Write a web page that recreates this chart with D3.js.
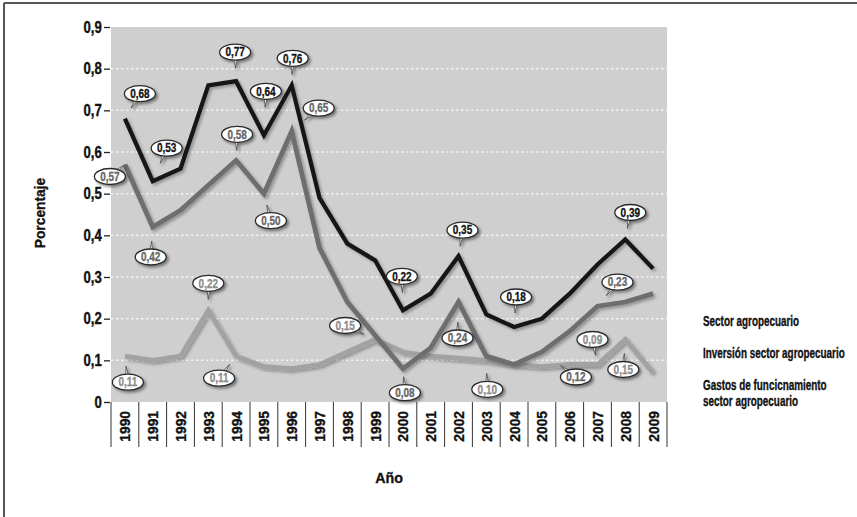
<!DOCTYPE html>
<html>
<head>
<meta charset="utf-8">
<script src="https://cdn.jsdelivr.net/npm/d3@7"></script>
<style>
  html, body { margin: 0; padding: 0; background: #fff; }
  svg { display: block; }
  text { font-family: "Liberation Sans", Arial, sans-serif; font-weight: bold; }
</style>
</head>
<body>
<svg id="chart" width="857" height="517"></svg>
<script>
// Years on the horizontal axis
const years = [1990, 1991, 1992, 1993, 1994, 1995, 1996, 1997, 1998, 1999,
               2000, 2001, 2002, 2003, 2004, 2005, 2006, 2007, 2008, 2009];

// Share of spending (porcentaje) for each series
const sector     = [0.68, 0.53, 0.56, 0.76, 0.77, 0.64, 0.76, 0.49, 0.38, 0.34,
                    0.22, 0.26, 0.35, 0.21, 0.18, 0.20, 0.26, 0.33, 0.39, 0.32];
const inversion  = [0.57, 0.42, 0.46, 0.52, 0.58, 0.50, 0.65, 0.37, 0.24, 0.16,
                    0.08, 0.13, 0.24, 0.11, 0.09, 0.12, 0.17, 0.23, 0.24, 0.26];
const gastos     = [0.11, 0.10, 0.11, 0.22, 0.11, 0.085, 0.08, 0.09, 0.12, 0.15,
                    0.12, 0.11, 0.105, 0.10, 0.09, 0.085, 0.09, 0.09, 0.15, 0.07];

const seriesNames = ["Sector agropecuario", "Inversión sector agropecuario",
                     ["Gastos de funcicnamiento", "sector agropecuario"]];

const yTicks = [0, 0.1, 0.2, 0.3, 0.4, 0.5, 0.6, 0.7, 0.8, 0.9];

// Value callouts: series index, year, bubble offset from the point
const callouts = [
  {s: 0, year: 1990, dx: 15, dy: -25}, {s: 0, year: 1991, dx: 14, dy: -33},
  {s: 0, year: 1994, dx: -1, dy: -29}, {s: 0, year: 1995, dx: 2, dy: -44},
  {s: 0, year: 1996, dx: 1, dy: -27},  {s: 0, year: 2000, dx: -1, dy: -34},
  {s: 0, year: 2002, dx: 4, dy: -26},  {s: 0, year: 2004, dx: 2, dy: -30},
  {s: 0, year: 2008, dx: 5, dy: -27},
  {s: 1, year: 1990, dx: -15, dy: 12}, {s: 1, year: 1991, dx: -2, dy: 30},
  {s: 1, year: 1994, dx: 1, dy: -26},  {s: 1, year: 1995, dx: 7, dy: 27},
  {s: 1, year: 1996, dx: 27, dy: -23}, {s: 1, year: 2000, dx: 2, dy: 24},
  {s: 1, year: 2002, dx: -1, dy: 36},  {s: 1, year: 2005, dx: 34, dy: 25},
  {s: 1, year: 2007, dx: 20, dy: -24},
  {s: 2, year: 1990, dx: 3, dy: 26},   {s: 2, year: 1993, dx: 0, dy: -27},
  {s: 2, year: 1994, dx: -17, dy: 22}, {s: 2, year: 1999, dx: -30, dy: -14},
  {s: 2, year: 2003, dx: 1, dy: 29},   {s: 2, year: 2007, dx: -5, dy: -25},
  {s: 2, year: 2008, dx: -2, dy: 30}
];

const seriesValues = [sector, inversion, gastos];
const lineColors = ["#151515", "#6e6e6e", "#a2a2a2"];
const labelColors = ["#111", "#666", "#8c8c8c"];

const svg = d3.select("#chart");
const defs = svg.append("defs");

const shadow = defs.append("filter").attr("id", "shadow")
  .attr("x", "-20%").attr("y", "-20%").attr("width", "140%").attr("height", "140%");
shadow.append("feDropShadow").attr("dx", 2).attr("dy", 2).attr("stdDeviation", 1.6)
  .attr("flood-color", "#000").attr("flood-opacity", 0.3);

const bubbleShadow = defs.append("filter").attr("id", "bshadow")
  .attr("x", "-40%").attr("y", "-40%").attr("width", "180%").attr("height", "180%");
bubbleShadow.append("feDropShadow").attr("dx", 2).attr("dy", 2).attr("stdDeviation", 1.4)
  .attr("flood-color", "#000").attr("flood-opacity", 0.45);

// Text narrowed horizontally to a condensed look
function label(parent, px, py, str, size, sx, opts = {}) {
  const rot = opts.rotate ? ` rotate(${opts.rotate})` : "";
  const fill = opts.fill || "#111";
  return parent.append("text")
    .attr("transform", `translate(${px},${py})${rot} scale(${sx},1)`)
    .attr("text-anchor", opts.anchor || "start")
    .attr("font-size", size)
    .attr("fill", fill)
    .attr("stroke", fill).attr("stroke-width", opts.heavy || 0.35)
    .text(str);
}

// Frame
svg.append("line").attr("x1", 4).attr("x2", 4).attr("y1", 3).attr("y2", 517)
  .attr("stroke", "#555").attr("stroke-width", 2);
svg.append("line").attr("x1", 4).attr("x2", 857).attr("y1", 3).attr("y2", 3)
  .attr("stroke", "#555").attr("stroke-width", 2);

const plotLeft = 111, plotRight = 667, plotTop = 27, plotBottom = 402;

const x = d3.scaleBand().domain(years).range([plotLeft, plotRight]).padding(0);
const y = d3.scaleLinear().domain([0, 0.9]).range([plotBottom, plotTop]);
const cx = yr => x(yr) + x.bandwidth() / 2;

// Plot background
svg.append("rect").attr("x", plotLeft).attr("y", plotTop)
  .attr("width", plotRight - plotLeft).attr("height", plotBottom - plotTop).attr("fill", "#cfcfcf");

// Dotted white gridlines
svg.append("g").selectAll("line").data(yTicks.filter(t => t > 0 && t < 0.9)).join("line")
  .attr("x1", plotLeft).attr("x2", plotRight)
  .attr("y1", d => y(d)).attr("y2", d => y(d))
  .attr("stroke", "#f2f2f2").attr("stroke-width", 1.5).attr("stroke-dasharray", "2.5 2.5");

// Y axis (ticks and labels only)
const fmt = d => d === 0 ? "0" : d3.format(".1f")(d).replace(".", ",");
const yAxis = svg.append("g").attr("transform", `translate(${plotLeft - 1},0)`)
  .call(d3.axisLeft(y).tickValues(yTicks).tickFormat(fmt).tickSize(6).tickPadding(4));
yAxis.select(".domain").remove();
yAxis.selectAll(".tick line").attr("stroke", "#222").attr("stroke-width", 1.3);
yAxis.selectAll(".tick text").attr("fill", "#111").attr("font-size", 16)
  .attr("transform", "scale(0.82,1)")
  .attr("stroke", "#111").attr("stroke-width", 0.4)
  .style("font-family", '"Liberation Sans", Arial, sans-serif')
  .style("font-weight", "bold");

// X axis: separators between years and rotated year labels
const bounds = years.map(yr => x(yr)).concat([plotRight]);
svg.append("g").selectAll("line").data(bounds).join("line")
  .attr("x1", d => d).attr("x2", d => d).attr("y1", plotBottom).attr("y2", 447)
  .attr("stroke", "#333").attr("stroke-width", 1);
const yearG = svg.append("g");
years.forEach(yr => label(yearG, cx(yr) + 5.5, 411, yr, 15, 0.92, {rotate: -90, anchor: "end"}));

// Series lines
const line = d3.line().x((d, i) => cx(years[i])).y(d => y(d));
[2, 1, 0].forEach(s => {
  svg.append("path").datum(seriesValues[s])
    .attr("d", line).attr("fill", "none")
    .attr("stroke", lineColors[s]).attr("stroke-width", s === 0 ? 4.2 : 4.8)
    .attr("stroke-linejoin", "miter").attr("filter", "url(#shadow)");
});

// Callout bubbles
const rx = 15.5, ry = 8;
const cg = svg.append("g");
callouts.forEach(c => {
  const i = years.indexOf(c.year);
  const v = seriesValues[c.s][i];
  const px = cx(c.year), py = y(v);
  const bx = px + c.dx, by = py + c.dy;
  const ang = Math.atan2(py - by, px - bx);
  const ux = Math.cos(ang), uy = Math.sin(ang);
  const edge = 1 / Math.sqrt((ux * ux) / (rx * rx) + (uy * uy) / (ry * ry));
  const len = edge + 8;
  const tx = bx + ux * len, ty = by + uy * len;
  const nx = -uy, ny = ux, w = 2.2;
  const g = cg.append("g").attr("filter", "url(#bshadow)");
  g.append("path")
    .attr("d", `M${bx + nx * w},${by + ny * w}L${tx},${ty}L${bx - nx * w},${by - ny * w}Z`)
    .attr("fill", "#fff").attr("stroke", "#444").attr("stroke-width", 0.8);
  g.append("ellipse").attr("cx", bx).attr("cy", by).attr("rx", rx).attr("ry", ry)
    .attr("fill", "#fff").attr("stroke", "#2a2a2a").attr("stroke-width", 1.3);
  label(cg, bx, by + 4.2, d3.format(".2f")(v).replace(".", ","), 12.5, 0.8,
        {anchor: "middle", fill: labelColors[c.s], heavy: 0.3});
});

// Legend
const legendRows = [320, 352, 384];
const legendG = svg.append("g");
legendRows.forEach((ly, s) => {
  legendG.append("line").attr("x1", 683).attr("x2", 701).attr("y1", ly).attr("y2", ly)
    .attr("stroke", lineColors[s]).attr("stroke-width", 4.5).attr("filter", "url(#shadow)");
  const name = seriesNames[s];
  const rows = Array.isArray(name) ? name : [name];
  rows.forEach((n, k) => label(legendG, 703, ly + 5.5 + k * 16, n, 15, 0.66));
});

// Axis titles
label(svg, 389, 483, "Año", 15.5, 0.92, {anchor: "middle"});
label(svg, 45, 213, "Porcentaje", 15, 0.92, {anchor: "middle", rotate: -90});
</script>
</body>
</html>
